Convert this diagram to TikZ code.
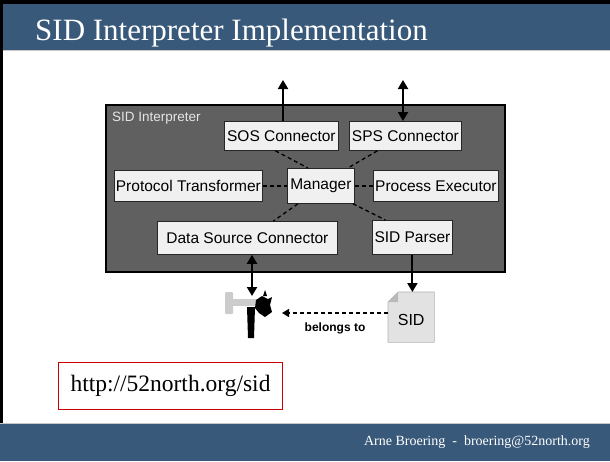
\documentclass[tikz,border=0pt]{standalone}
\usepackage{fontspec}
\setmainfont{Liberation Serif}
\setsansfont{Liberation Sans}
\usepackage{xcolor}
\usetikzlibrary{arrows.meta}

\definecolor{barblue}{RGB}{56,89,122}
\definecolor{boxgray}{RGB}{96,96,96}
\definecolor{partfill}{RGB}{240,240,240}
\definecolor{urlred}{RGB}{204,0,0}
\definecolor{pagegray}{RGB}{226,226,226}

\begin{document}
\begin{tikzpicture}[x=1pt,y=-1pt,
  part/.style={draw=black!85,fill=partfill,line width=0.8pt,inner sep=0pt,
    anchor=north west,font=\sffamily\fontsize{15.5}{18}\selectfont},
  link/.style={dash pattern=on 4pt off 3pt,line width=1.3pt},
  flow/.style={line width=2pt,-{Triangle[width=10pt,length=9pt]}},
  flowboth/.style={line width=2pt,{Triangle[width=10pt,length=9pt]}-{Triangle[width=10pt,length=9pt]}}]
\useasboundingbox (0,0) rectangle (610,461);

% slide frame, title bar and footer
\fill[barblue] (0,0) rectangle (610,50);
\draw[gray!45,line width=1pt] (0,50.5) -- (610,50.5);
\fill[black] (0,0) rectangle (610,4);
\fill[black] (0,0) rectangle (3,423);
\fill[barblue] (0,423) rectangle (610,461);
\draw[gray!45,line width=1pt] (0,423) -- (610,423);
\node[anchor=base west,text=white,font=\fontsize{31}{37}\selectfont,inner sep=0pt]
  (title) at (35,40) {SID Interpreter Implementation};
\node[anchor=base east,text=white,font=\fontsize{14}{17}\selectfont,inner sep=0pt]
  (author) at (590,445) {Arne Broering\ \ -\ \ broering@52north.org};

% interpreter and its parts
\fill[boxgray,draw=black,line width=1.5pt] (106,105) rectangle (505,272);
\node[anchor=north west,text=gray!20,font=\sffamily\fontsize{13.5}{16}\selectfont,inner sep=0pt]
  (interp) at (112,112) {SID Interpreter};
\node[part,minimum width=114pt,minimum height=29pt] (sos) at (224,121) {SOS Connector};
\node[part,minimum width=112pt,minimum height=29pt] (sps) at (349,121) {SPS Connector};
\node[part,minimum width=148pt,minimum height=31pt] (trans) at (114,170) {Protocol Transformer};
\node[part,minimum width=67pt,minimum height=35pt] (mgr) at (287,168) {Manager};
\node[part,minimum width=125pt,minimum height=31pt] (exec) at (373,170) {Process Executor};
\node[part,minimum width=180pt,minimum height=33pt] (dsc) at (157,221) {Data Source Connector};
\node[part,minimum width=80pt,minimum height=34pt] (parser) at (372,220) {SID Parser};

\draw[link] ([xshift=-6pt]sos.south) -- ([xshift=-13pt]mgr.north);
\draw[link] ([xshift=-28pt]sps.south) -- ([xshift=27pt]mgr.north);
\draw[link] (trans.east) -- (mgr.west);
\draw[link] (mgr.east) -- (exec.east -| exec.west);
\draw[link] ([xshift=-23pt]mgr.south) -- ([xshift=26pt]dsc.north);
\draw[link] ([xshift=32pt]mgr.south) -- ([xshift=-27pt]parser.north);

% outside world
\coordinate (sosout) at (283,80);
\coordinate (spsout) at (403,80);
\coordinate (sensor) at (252,296);
\draw[flow] (sosout |- sos.north) -- (sosout);
\draw[flowboth] (spsout) -- (spsout |- sps.north);
\draw[flowboth] (sensor |- dsc.south) -- (sensor);

% the SID file
\node[minimum width=46pt,minimum height=50pt,inner sep=0pt,anchor=north west] (sidfile) at (388,292) {};
\fill[pagegray,draw=gray!60,line width=0.6pt]
  ([xshift=10pt]sidfile.north west) -- (sidfile.north east) -- (sidfile.south east)
  -- (sidfile.south west) -- ([yshift=-10pt]sidfile.north west) -- cycle;
\fill[gray!55] ([xshift=10pt]sidfile.north west) -- ([yshift=-10pt]sidfile.north west)
  -- ([xshift=10pt,yshift=-10pt]sidfile.north west) -- cycle;
\node[font=\sffamily\fontsize{16}{19}\selectfont] (sidname) at ([yshift=-3pt]sidfile.center) {SID};
\draw[flow] (parser.south) -- (parser.south |- sidfile.north);

% the sensor
\fill[gray!40,rounded corners=1pt] (225,292) rectangle (233,314);
\fill[gray!40] (233,299) rectangle (257,306);
\fill[black] (247,307) -- (255,307) -- (254,338) -- (248,338) -- cycle;
\fill[black] (256,300) -- (262,296) -- (268,299) -- (272,297) -- (270,305)
  -- (272,312) -- (265,317) -- (259,313) -- (255,308) -- cycle;
\fill[black] (263,296) -- (265,290) -- (267,296) -- cycle;

\coordinate (sensorside) at (282,313);
\draw[line width=1.3pt,dash pattern=on 4pt off 3pt,-{Triangle[width=8pt,length=7pt]}]
  (sidfile.west |- sensorside) -- node[below=6pt,font=\sffamily\bfseries\fontsize{12}{14}\selectfont]
  (belongs) {belongs to} (sensorside);

% link to the project page
\node[draw=urlred,line width=1pt,anchor=north west,inner xsep=12pt,minimum height=47pt,
  font=\fontsize{23.5}{28}\selectfont] (url) at (58,362) {http://52north.org/sid};
\end{tikzpicture}
\end{document}
